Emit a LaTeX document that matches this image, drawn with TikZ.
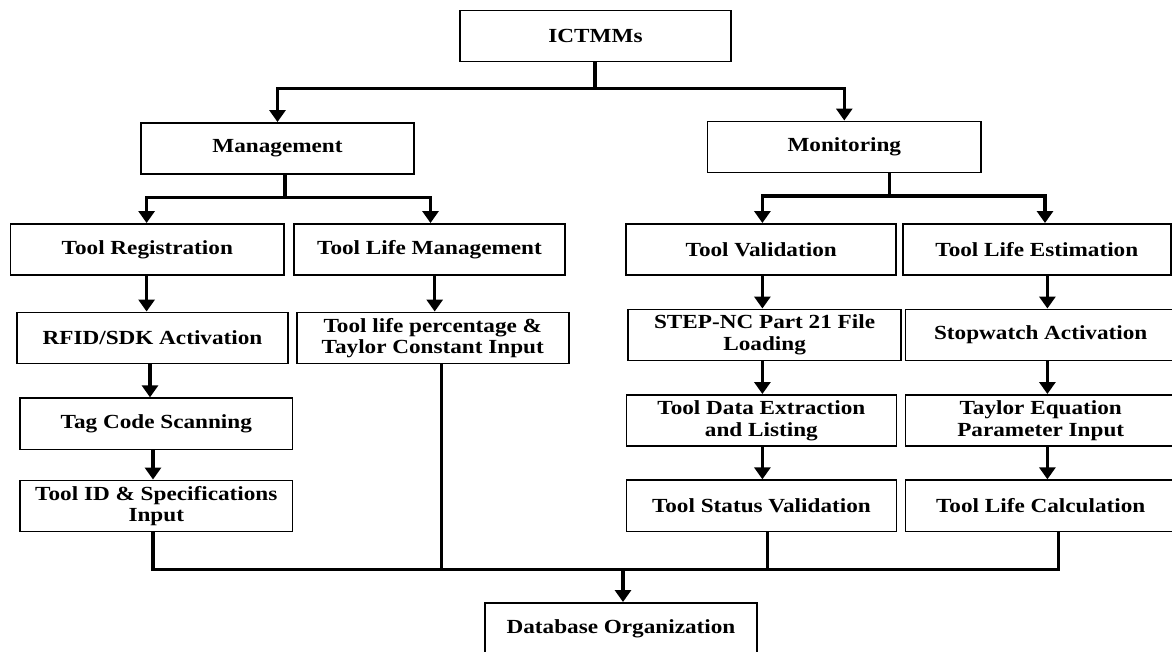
\documentclass[tikz,border=0pt]{standalone}
\usepackage{fontspec}
\setmainfont{Liberation Serif}[FakeStretch=1.16]
\usetikzlibrary{arrows.meta,calc}
\begin{document}
\begin{tikzpicture}[x=0.75pt,y=-0.75pt,
  box/.style={draw=black,line width=1.2pt,rectangle,inner sep=0pt,align=center,
    minimum height=38.5pt,font=\fontsize{15}{16.3}\selectfont\bfseries},
  w1/.style={minimum width=204pt},
  wire/.style={line width=2.3pt,line cap=rect},
  arr/.style={line width=2.3pt,-{Triangle[width=12pt,length=9pt]}}]
\useasboundingbox (0,0) rectangle (1172,652);
% nodes
\node[box,minimum width=203pt] (ict) at (595.5,36) {ICTMMs};
\node[box,minimum width=205pt] (mgmt) at (277.5,148.5) {Management};
\node[box,minimum width=205pt] (mon) at (844.3,147) {Monitoring};
\node[box,minimum width=205pt] (treg) at (147.3,249.5) {Tool Registration};
\node[box,minimum width=203pt] (tlm) at (429.5,249.5) {Tool Life Management};
\node[box,minimum width=202.5pt] (tval) at (761.2,249.5) {Tool Validation};
\node[box,minimum width=201pt] (tle) at (1036.8,249.5) {Tool Life Estimation};
\node[box,minimum width=203pt] (rfid) at (152.5,338) {RFID/SDK Activation};
\node[box,minimum width=204pt] (tlp) at (432.8,338) {Tool life percentage \&\\Taylor Constant Input};
\node[box,minimum width=204.5pt] (step) at (764.6,335) {STEP-NC Part 21 File\\Loading};
\node[box,minimum width=203pt] (stop) at (1040.7,335) {Stopwatch Activation};
\node[box,minimum width=204.5pt] (tag) at (156.3,423.8) {Tag Code Scanning};
\node[box,minimum width=202.5pt] (tdata) at (761.4,420.5) {Tool Data Extraction\\and Listing};
\node[box,minimum width=203pt] (taylor) at (1040.7,420.5) {Taylor Equation\\Parameter Input};
\node[box,minimum width=204.5pt] (tid) at (156.3,506) {Tool ID \& Specifications\\Input};
\node[box,minimum width=202.5pt] (tstat) at (761.4,505.8) {Tool Status Validation};
\node[box,minimum width=203pt] (tlc) at (1040.7,505.8) {Tool Life Calculation};
\node[box,minimum width=204pt] (db) at (621,628.5) {Database Organization};
% column coordinates
\coordinate (j0) at (595,88.3);
\coordinate (j1) at (285,197.3);
\coordinate (j2) at (889.6,196);
\coordinate (j3) at (623,569.3);
\coordinate (cTR) at (146.6,0);
\coordinate (cTLM) at (434.7,0);
\coordinate (cRF) at (150,0);
\coordinate (cTG) at (153,0);
\coordinate (cTLP) at (441.2,0);
\coordinate (cTV) at (762.4,0);
\coordinate (cTS) at (767.6,0);
\coordinate (cTLE) at (1047.4,0);
\coordinate (cTLC) at (1058.7,0);
\coordinate (cML) at (146.6,0);
\coordinate (cMR) at (430.5,0);
\coordinate (cNL) at (762.4,0);
\coordinate (cNR) at (1045,0);
% top level
\draw[wire] (ict.south -| j0) -- (j0);
\draw[arr] (j0) -| (mgmt.north);
\draw[arr] (j0) -| (mon.north);
% management branch
\draw[wire] (mgmt.south -| j1) -- (j1);
\draw[arr] (j1) -| (treg.north -| cML);
\draw[arr] (j1) -| (tlm.north -| cMR);
% monitoring branch
\draw[wire] (mon.south -| j2) -- (j2);
\draw[arr] (j2) -| (tval.north -| cNL);
\draw[arr] (j2) -| (tle.north -| cNR);
% chains
\draw[arr] (treg.south -| cTR) -- (rfid.north -| cTR);
\draw[arr] (rfid.south -| cRF) -- (tag.north -| cRF);
\draw[arr] (tag.south -| cTG) -- (tid.north -| cTG);
\draw[arr] (tlm.south -| cTLM) -- (tlp.north -| cTLM);
\draw[arr] (tval.south -| cTV) -- (step.north -| cTV);
\draw[arr] (step.south -| cTV) -- (tdata.north -| cTV);
\draw[arr] (tdata.south -| cTV) -- (tstat.north -| cTV);
\draw[arr] (tle.south -| cTLE) -- (stop.north -| cTLE);
\draw[arr] (stop.south -| cTLE) -- (taylor.north -| cTLE);
\draw[arr] (taylor.south -| cTLE) -- (tlc.north -| cTLE);
% collection to database
\draw[wire] (tid.south -| cTG) -- (j3 -| cTG) -- (j3 -| cTLC) -- (tlc.south -| cTLC);
\draw[wire] (tlp.south -| cTLP) -- (j3 -| cTLP);
\draw[wire] (tstat.south -| cTS) -- (j3 -| cTS);
\draw[arr] (j3) -- (db.north -| j3);
\end{tikzpicture}
\end{document}
